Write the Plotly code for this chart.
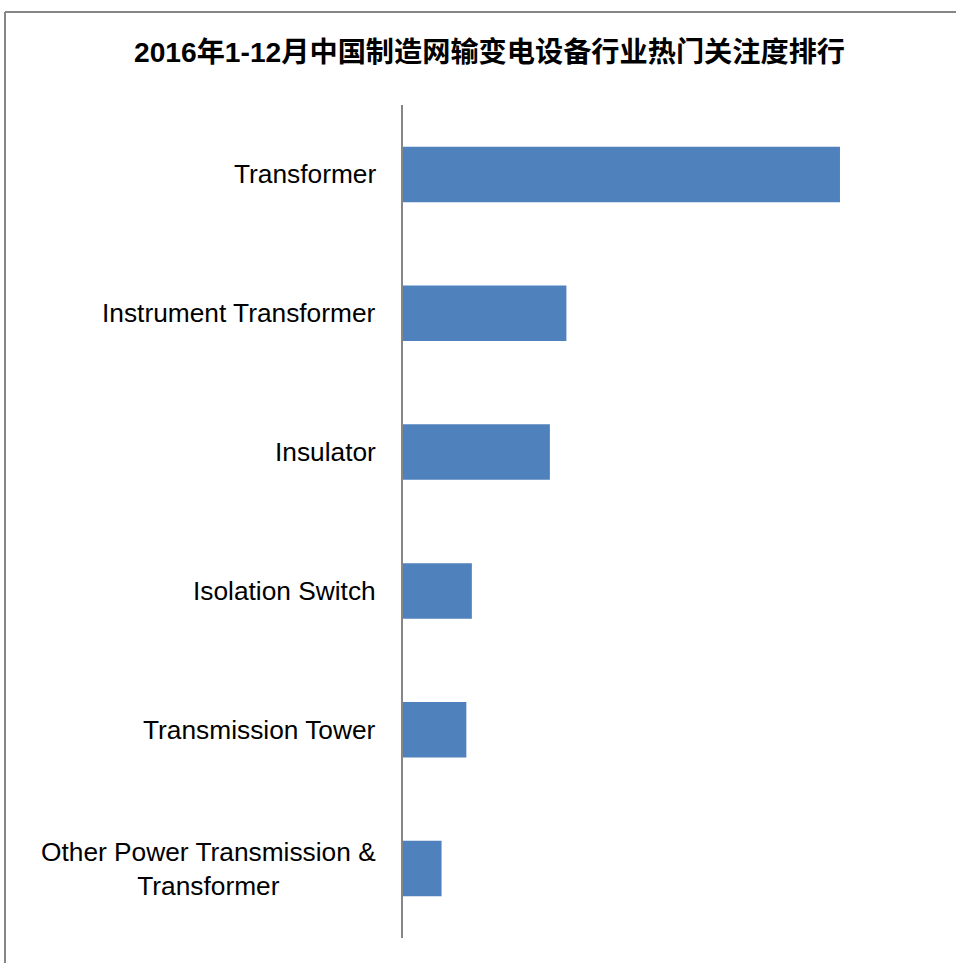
import plotly.graph_objects as go

categories = [
    "Transformer",
    "Instrument Transformer",
    "Insulator",
    "Isolation Switch",
    "Transmission Tower",
    "Other Power Transmission &<br>Transformer",
]
values = [47.6, 17.8, 16.0, 7.5, 6.9, 4.2]
title_text = "2016年1-12月中国制造网输变电设备行业热门关注度排行"

W, H = 956, 963
L, R, T, B = 403, 94, 105, 25
pw, ph = W - L - R, H - T - B

fig = go.Figure(go.Bar(
    x=values, y=categories, orientation="h",
    marker=dict(color="#4F81BD", line=dict(width=0)),
    hoverinfo="x+y",
))

annotations = []
for c in categories:
    annotations.append(dict(
        x=0, xref="paper", y=c, yref="y", xanchor="right", yanchor="middle",
        xshift=-25, text=c, showarrow=False, align="center",
        font=dict(family="Liberation Sans, Arial, sans-serif", size=26.3, color="#000000"),
    ))

bx = (5 - L) / pw
by = 1 + (T - 12) / ph
shapes = [
    dict(type="line", xref="paper", yref="paper", x0=bx, x1=3, y0=by, y1=by,
         line=dict(color="#868686", width=2)),
    dict(type="line", xref="paper", yref="paper", x0=bx, x1=bx, y0=-1, y1=by,
         line=dict(color="#868686", width=2)),
]

fig.update_layout(
    width=W, height=H,
    margin=dict(l=L, r=R, t=T, b=B, pad=0),
    paper_bgcolor="white", plot_bgcolor="white",
    bargap=0.6,
    showlegend=False,
    title=dict(
        text="<b>" + title_text + "</b>",
        x=489.5 / W, xref="container", xanchor="center",
        y=1 - 52 / H, yref="container", yanchor="middle",
        font=dict(family="Liberation Sans, Arial, Noto Sans CJK SC", size=28.2, color="#000000"),
    ),
    xaxis=dict(range=[0, 50], visible=False, showgrid=False, zeroline=False),
    yaxis=dict(
        autorange="reversed", showticklabels=False, ticks="",
        showline=True, linecolor="#868686", linewidth=2,
        showgrid=False, zeroline=False,
    ),
    annotations=annotations,
    shapes=shapes,
)

fig.write_html(
    "out.html",
    config={"displayModeBar": False},
    post_script="document.body.style.margin='0';document.body.style.overflow='hidden';",
)
